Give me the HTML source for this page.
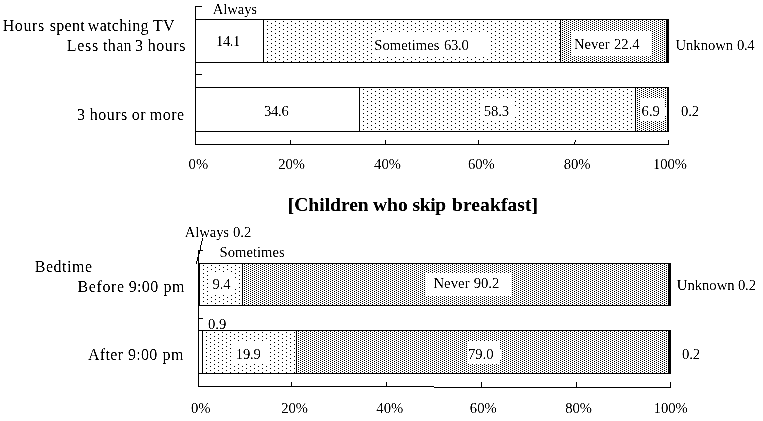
<!DOCTYPE html>
<html lang="en">
<head>
<meta charset="utf-8">
<title>Children who skip breakfast</title>
<style>
html,body{margin:0;padding:0;background:#fff;}
body{width:763px;height:421px;overflow:hidden;}
svg{display:block;}
svg text{font-family:"Liberation Serif",serif;fill:#000;}
</style>
</head>
<body>
<svg width="763" height="421" viewBox="0 0 763 421" shape-rendering="crispEdges">
<defs>
<pattern id="pa" x="0" y="0" width="8" height="4" patternUnits="userSpaceOnUse">
<rect x="0" y="0" width="1" height="1" fill="#000"/>
<rect x="4" y="2" width="1" height="1" fill="#000"/>
</pattern>
<pattern id="pb" x="0" y="0" width="4" height="2" patternUnits="userSpaceOnUse">
<rect x="0" y="0" width="1" height="1" fill="#000"/>
<rect x="2" y="1" width="1" height="1" fill="#000"/>
</pattern>
<filter id="th" x="0" y="0" width="100%" height="100%" filterUnits="userSpaceOnUse" color-interpolation-filters="sRGB">
<feComponentTransfer><feFuncA type="linear" slope="2.2" intercept="-0.6"/></feComponentTransfer>
</filter>
<filter id="tb" x="0" y="0" width="100%" height="100%" filterUnits="userSpaceOnUse" color-interpolation-filters="sRGB">
<feComponentTransfer><feFuncA type="linear" slope="1.8" intercept="-0.3"/></feComponentTransfer>
</filter>
</defs>
<rect x="0" y="0" width="763" height="421" fill="#fff"/>
<rect transform="translate(263,19)" width="297" height="44" fill="url(#pa)"/>
<rect transform="translate(560,19)" width="106" height="44" fill="url(#pb)"/>
<rect x="666" y="19" width="3" height="44" fill="#000"/>
<rect x="372" y="32" width="119" height="25" fill="#fff"/>
<rect x="571" y="31" width="81" height="25" fill="#fff"/>
<rect x="195" y="19" width="474" height="1" fill="#000"/>
<rect x="195" y="62" width="474" height="1" fill="#000"/>
<rect x="263" y="19" width="1" height="44" fill="#000"/>
<rect x="560" y="19" width="1" height="44" fill="#000"/>
<rect transform="translate(359,87)" width="276" height="45" fill="url(#pa)"/>
<rect transform="translate(635,87)" width="32" height="45" fill="url(#pb)"/>
<rect x="667" y="87" width="2" height="45" fill="#000"/>
<rect x="482" y="99" width="33" height="21" fill="#fff"/>
<rect x="515" y="107" width="1" height="9" fill="#fff"/>
<rect x="640" y="98" width="25" height="23" fill="#fff"/>
<rect x="665" y="107" width="1" height="9" fill="#fff"/>
<rect x="195" y="87" width="474" height="1" fill="#000"/>
<rect x="195" y="131" width="474" height="1" fill="#000"/>
<rect x="359" y="87" width="1" height="45" fill="#000"/>
<rect x="635" y="87" width="1" height="45" fill="#000"/>
<rect x="195" y="6" width="1" height="139" fill="#000"/>
<rect x="195" y="144" width="474" height="1" fill="#000"/>
<rect x="195" y="6" width="7" height="1" fill="#000"/>
<rect x="195" y="74" width="7" height="1" fill="#000"/>
<rect x="290" y="140" width="1" height="5" fill="#000"/>
<rect x="385" y="140" width="1" height="5" fill="#000"/>
<rect x="478" y="140" width="1" height="5" fill="#000"/>
<rect x="668" y="140" width="1" height="5" fill="#000"/>
<rect x="575" y="140" width="1" height="2" fill="#000"/>
<rect x="574" y="142" width="1" height="3" fill="#000"/>
<rect transform="translate(199,263)" width="43" height="43" fill="url(#pa)"/>
<rect transform="translate(242,263)" width="426" height="43" fill="url(#pb)"/>
<rect x="668" y="263" width="3" height="43" fill="#000"/>
<rect x="209" y="273" width="26" height="21" fill="#fff"/>
<rect x="235" y="280" width="1" height="9" fill="#fff"/>
<rect x="426" y="273" width="86" height="23" fill="#fff"/>
<rect x="198" y="263" width="473" height="1" fill="#000"/>
<rect x="198" y="305" width="473" height="1" fill="#000"/>
<rect x="198" y="263" width="2" height="43" fill="#000"/>
<rect x="242" y="263" width="1" height="43" fill="#000"/>
<rect transform="translate(202,330)" width="94" height="44" fill="url(#pa)"/>
<rect transform="translate(296,330)" width="372" height="44" fill="url(#pb)"/>
<rect x="668" y="330" width="3" height="44" fill="#000"/>
<rect x="232" y="342" width="38" height="22" fill="#fff"/>
<rect x="468" y="341" width="32" height="23" fill="#fff"/>
<rect x="500" y="350" width="2" height="9" fill="#fff"/>
<rect x="198" y="330" width="473" height="1" fill="#000"/>
<rect x="198" y="373" width="473" height="1" fill="#000"/>
<rect x="202" y="330" width="1" height="44" fill="#000"/>
<rect x="296" y="330" width="1" height="44" fill="#000"/>
<rect x="198" y="250" width="1" height="137" fill="#000"/>
<rect x="198" y="386" width="236" height="1" fill="#000"/>
<rect x="434" y="387" width="237" height="1" fill="#000"/>
<rect x="198" y="250" width="5" height="1" fill="#000"/>
<rect x="198" y="318" width="5" height="1" fill="#000"/>
<rect x="291" y="382" width="1" height="5" fill="#000"/>
<rect x="386" y="382" width="1" height="5" fill="#000"/>
<rect x="481" y="382" width="1" height="6" fill="#000"/>
<rect x="576" y="382" width="1" height="6" fill="#000"/>
<rect x="670" y="382" width="1" height="6" fill="#000"/>
<rect x="202" y="238" width="1" height="3" fill="#000"/>
<rect x="201" y="241" width="1" height="4" fill="#000"/>
<rect x="200" y="245" width="1" height="5" fill="#000"/>
<rect x="199" y="250" width="1" height="4" fill="#000"/>
<rect x="197" y="257" width="1" height="4" fill="#000"/>
<rect x="196" y="261" width="1" height="3" fill="#000"/>
<g filter="url(#th)">
<text y="31" font-size="16"><tspan x="2.7" letter-spacing="0.6">Hours</tspan> <tspan x="49.8" letter-spacing="0.3">spent</tspan> <tspan x="87.8" letter-spacing="0.3">watching</tspan> <tspan x="153" letter-spacing="0.3">TV</tspan></text>
<text y="51" font-size="16"><tspan x="66.8" letter-spacing="0.7">Less</tspan> <tspan x="103.1" letter-spacing="0.3">than</tspan> <tspan x="135">3</tspan> <tspan x="147.8" letter-spacing="0.5">hours</tspan></text>
<text y="120" font-size="16"><tspan x="76.9">3</tspan> <tspan x="89.7" letter-spacing="0.5">hours</tspan> <tspan x="131.8" letter-spacing="0.4">or</tspan> <tspan x="149.8" letter-spacing="0.5">more</tspan></text>
<text x="34.8" y="272" font-size="16" letter-spacing="0.5">Bedtime</text>
<text y="292" font-size="16"><tspan x="77.5" letter-spacing="0.6">Before</tspan> <tspan x="128.8" letter-spacing="0.3">9:00</tspan> <tspan x="163.4" letter-spacing="0.5">pm</tspan></text>
<text y="360" font-size="16"><tspan x="88" letter-spacing="0.3">After</tspan> <tspan x="128" letter-spacing="0.3">9:00</tspan> <tspan x="162.6" letter-spacing="0.3">pm</tspan></text>
<text x="212.8" y="14" font-size="14.67" letter-spacing="-0.1">Always</text>
<text x="216" y="46" font-size="14.67" letter-spacing="-0.4">14.1</text>
<text y="50" font-size="14.67"><tspan x="374.3">Sometimes</tspan> <tspan x="444" letter-spacing="-0.3">63.0</tspan></text>
<text y="49" font-size="14.67"><tspan x="573.9">Never</tspan> <tspan x="614">22.4</tspan></text>
<text y="50" font-size="14.67"><tspan x="675.4">Unknown</tspan> <tspan x="736.9" letter-spacing="-0.3">0.4</tspan></text>
<text x="264" y="116" font-size="14.67" letter-spacing="-0.3">34.6</text>
<text x="483.7" y="116" font-size="14.67" letter-spacing="-0.1">58.3</text>
<text x="641.6" y="116" font-size="14.67">6.9</text>
<text x="681" y="116" font-size="14.67" letter-spacing="-0.1">0.2</text>
<text x="188.6" y="169" font-size="14.67">0%</text>
<text x="278.2" y="169" font-size="14.67">20%</text>
<text x="374.1" y="169" font-size="14.67">40%</text>
<text x="467.9" y="169" font-size="14.67">60%</text>
<text x="563.7" y="169" font-size="14.67">80%</text>
<text x="653" y="169" font-size="14.67" letter-spacing="-0.1">100%</text>
<text y="237" font-size="14.67"><tspan x="184.8" letter-spacing="-0.1">Always</tspan> <tspan x="233">0.2</tspan></text>
<text x="219.6" y="257" font-size="14.67">Sometimes</text>
<text x="212.5" y="289" font-size="14.67" letter-spacing="-0.1">9.4</text>
<text y="288" font-size="14.67"><tspan x="433.4" letter-spacing="0.1">Never</tspan> <tspan x="473.7">90.2</tspan></text>
<text y="290" font-size="14.67"><tspan x="676.8">Unknown</tspan> <tspan x="737.9" letter-spacing="-0.1">0.2</tspan></text>
<text x="208" y="329" font-size="14.67">0.9</text>
<text x="235.8" y="359" font-size="14.67" letter-spacing="-0.2">19.9</text>
<text x="467.9" y="359" font-size="14.67">79.0</text>
<text x="682" y="359" font-size="14.67" letter-spacing="-0.1">0.2</text>
<text x="191" y="413" font-size="14.67">0%</text>
<text x="281.2" y="413" font-size="14.67">20%</text>
<text x="376.3" y="413" font-size="14.67">40%</text>
<text x="469.8" y="413" font-size="14.67">60%</text>
<text x="565.2" y="413" font-size="14.67">80%</text>
<text x="653.6" y="413" font-size="14.67">100%</text>
</g>
<g filter="url(#tb)"><text y="211" font-size="19.5" font-weight="bold"><tspan x="287.8">[Children</tspan> <tspan x="373">who</tspan> <tspan x="412.4" letter-spacing="-0.3">skip</tspan> <tspan x="452" letter-spacing="0.1">breakfast]</tspan></text></g>
</svg>
</body>
</html>
